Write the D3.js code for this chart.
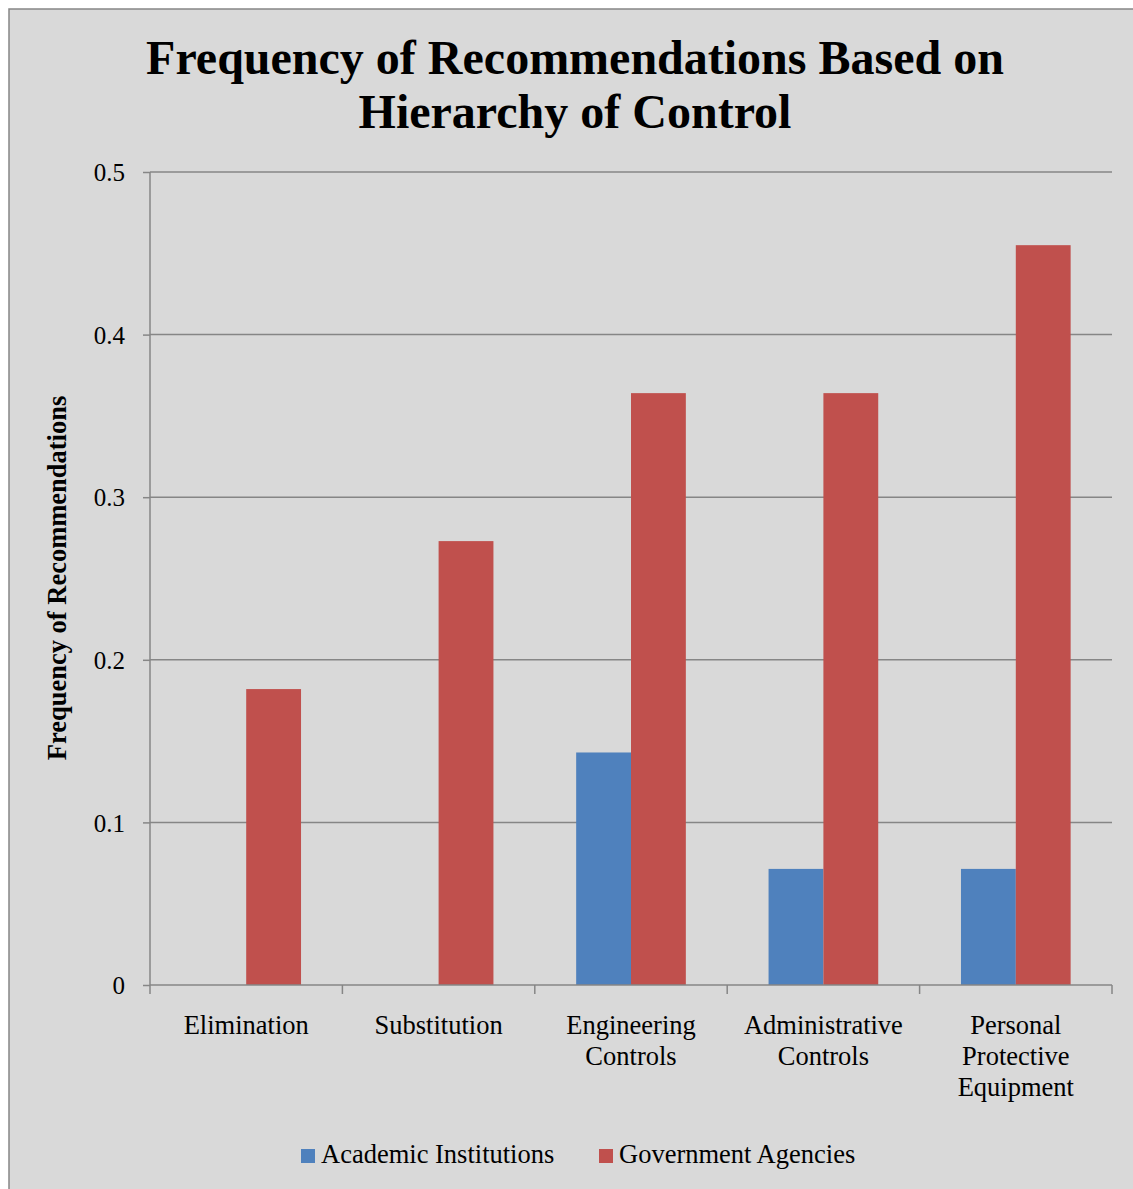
<!DOCTYPE html>
<html><head><meta charset="utf-8">
<script src="https://cdn.jsdelivr.net/npm/d3@7"></script>
<style>html,body{margin:0;padding:0;background:#fff;} svg{display:block;}</style>
</head><body>
<script>
const categories = [["Elimination"],["Substitution"],["Engineering","Controls"],["Administrative","Controls"],["Personal","Protective","Equipment"]];
const seriesNames = ["Academic Institutions","Government Agencies"];
const academic = [0, 0, 0.143, 0.0714, 0.0714];
const government = [0.182, 0.273, 0.364, 0.364, 0.455];
const yTicks = [0, 0.1, 0.2, 0.3, 0.4, 0.5];
const colors = ["#4F81BD","#C0504D"];

(function(){
const W = 1133, H = 1189;
const svg = d3.select("body").append("svg").attr("width", W).attr("height", H);
svg.append("rect").attr("x", 9).attr("y", 9).attr("width", W).attr("height", H)
  .attr("fill", "#D9D9D9").attr("stroke", "#868686").attr("stroke-width", 1.5);

const font = "'Liberation Serif','Times New Roman',serif";
const pL = 150, pR = 1112, pT = 172, pB = 985;
const x = d3.scaleBand().domain(d3.range(categories.length)).range([pL, pR]).paddingInner(0).paddingOuter(0);
const y = d3.scaleLinear().domain([0, 0.5]).range([pB, pT]);

// title
const title = svg.append("text").attr("text-anchor", "middle").attr("font-family", font)
  .attr("font-weight", "bold").attr("font-size", 48).attr("fill", "#000");
title.append("tspan").attr("x", 575).attr("y", 74).text("Frequency of Recommendations Based on");
title.append("tspan").attr("x", 575).attr("y", 128).text("Hierarchy of Control");

// gridlines
svg.append("g").selectAll("line").data(yTicks.filter(d => d > 0)).join("line")
  .attr("x1", pL).attr("x2", pR).attr("y1", d => y(d)).attr("y2", d => y(d))
  .attr("stroke", "#868686").attr("stroke-width", 1.5);

// y axis
const yAxis = svg.append("g").attr("transform", `translate(${pL},0)`)
  .call(d3.axisLeft(y).tickValues(yTicks).tickFormat(d => d === 0 ? "0" : d3.format(".1f")(d)).tickSize(7).tickPadding(18));
yAxis.select(".domain").attr("stroke", "#868686").attr("stroke-width", 1.5).attr("d", `M0,${pT}V${pB}`);
yAxis.selectAll(".tick line").attr("stroke", "#868686").attr("stroke-width", 1.5);
yAxis.selectAll(".tick text").attr("font-family", font).attr("font-size", 25).attr("fill", "#000").attr("dy", "0.35em");

// bars
const bw = x.bandwidth() * 0.285;
const groups = svg.append("g");
categories.forEach((c, i) => {
  const cx = x(i) + x.bandwidth() / 2;
  [academic[i], government[i]].forEach((v, s) => {
    if (v <= 0) return;
    groups.append("rect")
      .attr("x", cx - bw + s * bw).attr("y", y(v))
      .attr("width", bw).attr("height", y(0) - y(v))
      .attr("fill", colors[s]);
  });
});

// x axis
const xg = svg.append("g");
xg.append("line").attr("x1", pL).attr("x2", pR).attr("y1", pB).attr("y2", pB)
  .attr("stroke", "#868686").attr("stroke-width", 1.5);
const bounds = d3.range(categories.length + 1).map(i => i < categories.length ? x(i) : x(i - 1) + x.bandwidth());
xg.selectAll("line.t").data(bounds).join("line").attr("class", "t")
  .attr("x1", d => d).attr("x2", d => d).attr("y1", pB).attr("y2", pB + 9)
  .attr("stroke", "#868686").attr("stroke-width", 1.5);
categories.forEach((lines, i) => {
  const cx = x(i) + x.bandwidth() / 2;
  const t = xg.append("text").attr("text-anchor", "middle").attr("font-family", font)
    .attr("font-size", 26.5).attr("fill", "#000");
  lines.forEach((ln, k) => t.append("tspan").attr("x", cx).attr("y", 1034 + k * 31).text(ln));
});

// y title
svg.append("text").attr("transform", "translate(66,578) rotate(-90)").attr("text-anchor", "middle")
  .attr("font-family", font).attr("font-weight", "bold").attr("font-size", 26.5).attr("fill", "#000")
  .text("Frequency of Recommendations");

// legend
const legX = [301, 599];
seriesNames.forEach((n, s) => {
  svg.append("rect").attr("x", legX[s]).attr("y", 1149).attr("width", 14).attr("height", 14).attr("fill", colors[s]);
  svg.append("text").attr("x", legX[s] + 20).attr("y", 1163).attr("font-family", font).attr("font-size", 26.5)
    .attr("fill", "#000").text(n);
});
})();
</script>
</body></html>
